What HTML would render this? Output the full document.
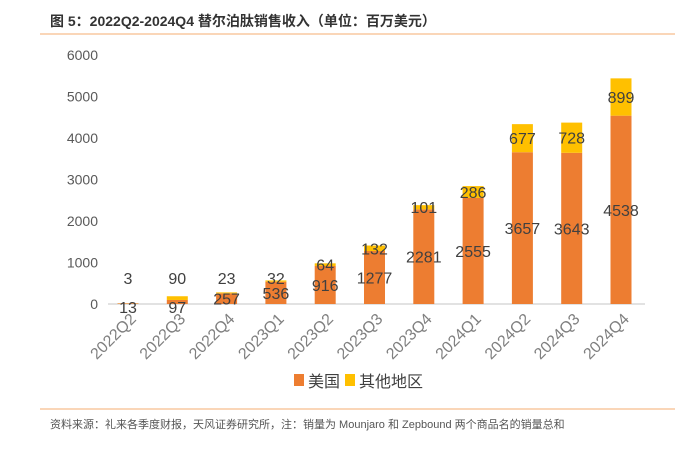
<!DOCTYPE html>
<html><head><meta charset="utf-8"><style>
body{margin:0;background:#fff;width:700px;height:455px;overflow:hidden;font-family:"Liberation Sans","Noto Sans CJK SC",sans-serif}
</style></head><body>
<svg width="700" height="455" xmlns="http://www.w3.org/2000/svg">
<text x="50" y="26" font-size="14" font-weight="bold" fill="#333" font-family="Liberation Sans,Noto Sans CJK SC,sans-serif">图 5：2022Q2-2024Q4 替尔泊肽销售收入（单位：百万美元）</text>
<line x1="40" y1="34" x2="675" y2="34" stroke="#F8C9A0" stroke-width="1.5"/>
<g id="plot"></g>
<g>
<rect x="294" y="374" width="10" height="12" fill="#ED7D31"/>
<text x="308" y="387" font-size="16" fill="#404040">美国</text>
<rect x="345" y="374" width="10" height="12" fill="#FFC000"/>
<text x="359" y="387" font-size="16" fill="#404040">其他地区</text>
</g>
<line x1="40" y1="409" x2="675" y2="409" stroke="#F8C9A0" stroke-width="1.5"/>
<text x="50" y="428" font-size="11" fill="#555">资料来源：礼来各季度财报，天风证券研究所，注：销量为 Mounjaro 和 Zepbound 两个商品名的销量总和</text>
</svg>
<script>
const categories=["2022Q2","2022Q3","2022Q4","2023Q1","2023Q2","2023Q3","2023Q4","2024Q1","2024Q2","2024Q3","2024Q4"];
const usValues=[13,97,257,536,916,1277,2281,2555,3657,3643,4538];
const otherValues=[3,90,23,32,64,132,101,286,677,728,899];
const yTicks=[0,1000,2000,3000,4000,5000,6000];
const NS="http://www.w3.org/2000/svg";
const g=document.getElementById('plot');
const y0=304,yTop=55,yMax=6000;
const yScale=v=>y0-(v/yMax)*(y0-yTop);
const xScale=i=>128+i*49.3;
const bw=21;
function mk(tag,attrs,txt){const e=document.createElementNS(NS,tag);for(const k in attrs)e.setAttribute(k,attrs[k]);if(txt!==undefined)e.textContent=txt;g.appendChild(e);return e;}
yTicks.forEach(t=>{
  const e=mk('text',{x:98,y:yScale(t)+5,'font-size':14,fill:'#595959','text-anchor':'end'},t);
  
  
});
const ax=mk('line',{x1:108,x2:645,y1:y0,y2:y0,stroke:'#D9D9D9','stroke-width':1.5});


categories.forEach((c,i)=>{
  const cx=xScale(i);
  const us=usValues[i],ot=otherValues[i];
  const yu=yScale(us),yo=yScale(us+ot);
  const r1=mk('rect',{x:cx-bw/2,y:yu,width:bw,height:y0-yu,fill:'#ED7D31'});
  
  
  const r2=mk('rect',{x:cx-bw/2,y:yo,width:bw,height:yu-yo,fill:'#FFC000'});
  
  
  const ly=(y0-yu)<8 ? y0+3 : (yu+y0)/2;
  const t1=mk('text',{x:cx,y:ly+6,'font-size':16,fill:'#404040','text-anchor':'middle'},us);
  
  
  const oy=Math.min((yo+yu)/2,278);
  const t2=mk('text',{x:cx,y:oy+6,'font-size':16,fill:'#404040','text-anchor':'middle'},ot);
  
  
  const lx=cx+9,ly2=320;
  const xl=mk('text',{x:lx,y:ly2,'font-size':16,fill:'#7F7F7F','text-anchor':'end',transform:`rotate(-45 ${lx} ${ly2})`},c);
  
  
});
</script>
</body></html>
